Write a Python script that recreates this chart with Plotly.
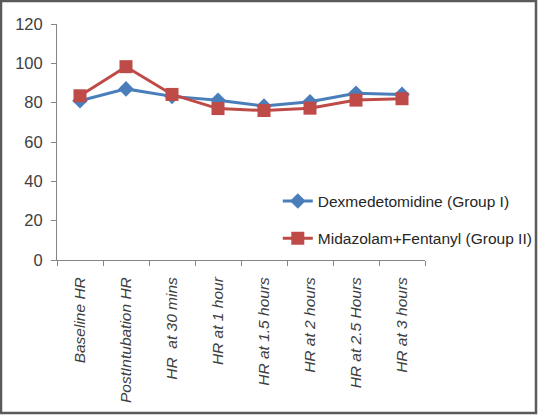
import plotly.graph_objects as go

categories = ["Baseline HR", "PostIntubation HR", "HR  at 30 mins", "HR at 1 hour",
              "HR at 1.5 hours", "HR at 2 hours", "HR at 2.5 Hours", "HR at 3 hours"]
dex_values = [81.0, 87.0, 83.2, 81.2, 78.3, 80.5, 84.8, 84.2]
mid_values = [83.5, 98.3, 84.2, 77.0, 76.0, 77.2, 81.3, 82.0]
y_ticks = [0, 20, 40, 60, 80, 100, 120]

fig = go.Figure()
fig.add_trace(go.Scatter(
    x=categories, y=dex_values, mode="lines+markers",
    name="Dexmedetomidine (Group I)", legendgroup="a",
    line=dict(color="#4A7EBB", width=3),
    marker=dict(symbol="diamond", size=12, color="#4A7EBB"),
))
fig.add_trace(go.Scatter(
    x=categories, y=mid_values, mode="lines+markers",
    name="Midazolam+Fentanyl (Group II)", legendgroup="b",
    line=dict(color="#BE4B48", width=3),
    marker=dict(symbol="square", size=13, color="#BE4B48"),
))

fig.update_layout(
    width=538, height=415,
    margin=dict(l=57, r=113, t=24, b=155, autoexpand=False),
    paper_bgcolor="white", plot_bgcolor="white",
    font=dict(family="Liberation Sans, Arial, sans-serif", color="#404040", size=14),
    showlegend=True,
    legend=dict(x=0.60, y=0.32, xanchor="left", yanchor="top",
                bgcolor="rgba(0,0,0,0)", tracegroupgap=14, itemwidth=30,
                font=dict(size=15.5, color="#262626")),
    shapes=[dict(type="rect", xref="paper", yref="paper",
                 x0=-56/368, x1=(536-57)/368, y0=-(413-260)/236, y1=23/236 + 1,
                 line=dict(color="#5A5A5A", width=2.5), layer="above")],
)
fig.update_xaxes(
    type="category", range=[-0.5, 7.5], automargin=False,
    showline=True, linecolor="#868686", linewidth=1,
    ticks="outside", ticklen=5, tickcolor="#868686", tickson="boundaries",
    tickangle=-90, tickfont=dict(size=15.5, style="italic", color="#404040"),
    ticklabelstandoff=10,
    showgrid=False, zeroline=False,
)
fig.update_yaxes(
    range=[0, 120], tickvals=y_ticks, automargin=False,
    showline=True, linecolor="#868686", linewidth=1,
    ticks="outside", ticklen=5, tickcolor="#868686",
    tickfont=dict(size=16.5, color="#404040"),
    ticklabelstandoff=5,
    showgrid=False, zeroline=False,
)

fig.write_html("out.html",
               config={"displayModeBar": False},
               post_script="document.body.style.margin='0';document.body.style.overflow='hidden';")
